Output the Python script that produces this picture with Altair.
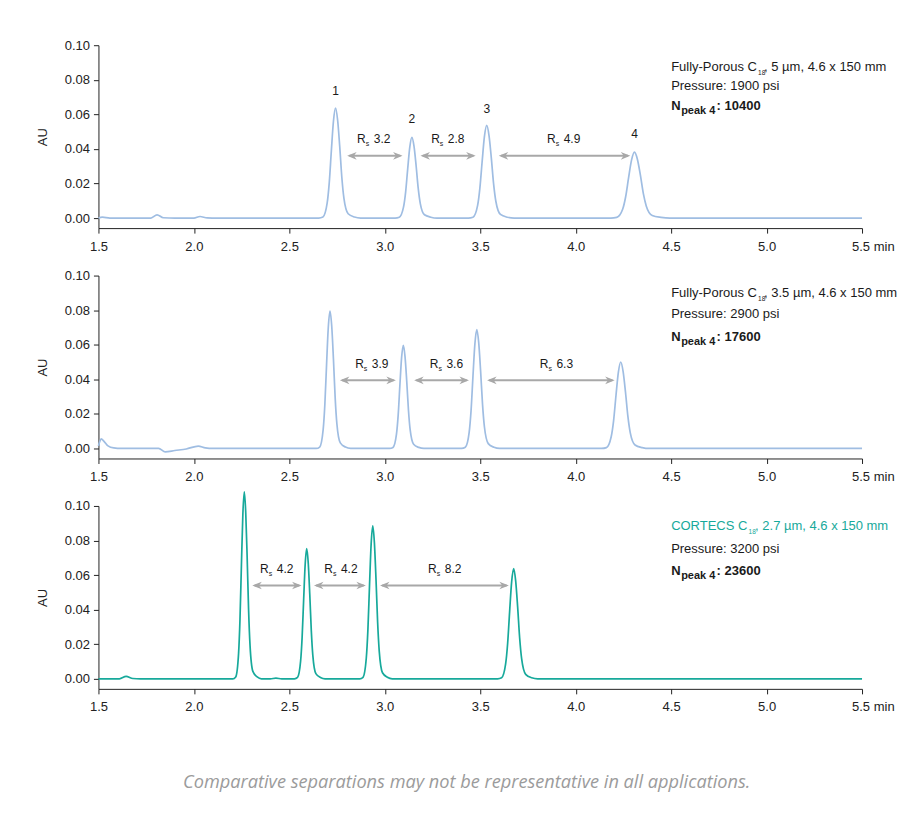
import altair as alt
import pandas as pd

# ---------------- axis ticks ----------------
X_TICKS = [1.5, 2.0, 2.5, 3.0, 3.5, 4.0, 4.5, 5.0, 5.5]
Y_TICKS = [0.0, 0.02, 0.04, 0.06, 0.08, 0.10]

# ---------------- chromatogram traces (time in min, absorbance in AU) ----------------
P1_T = [1.5, 1.52, 1.56, 1.775, 1.807, 1.84, 1.90, 2.00, 2.032, 2.07, 2.12,
        2.654, 2.676, 2.698, 2.709, 2.720, 2.731, 2.742, 2.753, 2.764, 2.775, 2.786, 2.808, 2.841, 2.874,
        3.054, 3.076, 3.098, 3.109, 3.120, 3.131, 3.142, 3.153, 3.164, 3.175, 3.186, 3.208, 3.241, 3.274,
        3.438, 3.462, 3.486, 3.498, 3.510, 3.522, 3.534, 3.546, 3.558, 3.570, 3.582, 3.606, 3.642, 3.678,
        4.184, 4.215, 4.246, 4.2615, 4.277, 4.2925, 4.308, 4.3235, 4.339, 4.3545, 4.370, 4.401, 4.4475, 4.494,
        5.5]
P1_AU = [0.0, 0.0005, 0.0, 0.0, 0.0019, 0.0002, 0.0, 0.0, 0.0009, 0.0001, 0.0,
         0.0, 0.0006, 0.0086, 0.0204, 0.0388, 0.0560, 0.0636, 0.0566, 0.0413, 0.0235, 0.0114, 0.0025, 0.0006, 0.0,
         0.0, 0.0005, 0.0063, 0.0149, 0.0285, 0.0411, 0.0467, 0.0416, 0.0304, 0.0173, 0.0084, 0.0019, 0.0005, 0.0,
         0.0, 0.0005, 0.0072, 0.0172, 0.0327, 0.0472, 0.0536, 0.0477, 0.0348, 0.0198, 0.0096, 0.0021, 0.0005, 0.0,
         0.0, 0.0004, 0.0051, 0.0122, 0.0232, 0.0335, 0.0381, 0.0339, 0.0248, 0.0141, 0.0069, 0.0015, 0.0004, 0.0,
         0.0]

P2_T = [1.5, 1.507, 1.514, 1.53, 1.55, 1.58, 1.62, 1.815, 1.85, 1.90, 1.96, 2.023, 2.06, 2.10,
        2.641, 2.659, 2.677, 2.686, 2.695, 2.704, 2.713, 2.722, 2.731, 2.740, 2.749, 2.767, 2.794, 2.821,
        3.025, 3.043, 3.061, 3.070, 3.079, 3.088, 3.097, 3.106, 3.115, 3.124, 3.133, 3.151, 3.178, 3.205,
        3.402, 3.422, 3.442, 3.452, 3.462, 3.472, 3.482, 3.492, 3.502, 3.512, 3.522, 3.542, 3.572, 3.602,
        4.136, 4.161, 4.186, 4.1985, 4.211, 4.2235, 4.236, 4.2485, 4.261, 4.2735, 4.286, 4.311, 4.3485, 4.386,
        5.5]
P2_AU = [0.0015, 0.004, 0.0055, 0.004, 0.0015, 0.0003, 0.0, 0.0, -0.002, -0.0012, -0.0003, 0.0014, 0.0003, 0.0,
         0.0, 0.0008, 0.0107, 0.0254, 0.0485, 0.0700, 0.0795, 0.0708, 0.0517, 0.0294, 0.0143, 0.0032, 0.0008, 0.0,
         0.0, 0.0006, 0.0081, 0.0191, 0.0364, 0.0525, 0.0597, 0.0531, 0.0388, 0.0221, 0.0107, 0.0024, 0.0006, 0.0,
         0.0, 0.0007, 0.0093, 0.0220, 0.0420, 0.0605, 0.0688, 0.0612, 0.0447, 0.0255, 0.0124, 0.0028, 0.0007, 0.0,
         0.0, 0.0005, 0.0068, 0.0160, 0.0305, 0.0440, 0.0500, 0.0445, 0.0325, 0.0185, 0.0090, 0.0020, 0.0005, 0.0,
         0.0]

P3_T = [1.5, 1.61, 1.645, 1.68, 1.72,
        2.204, 2.219, 2.234, 2.2415, 2.249, 2.2565, 2.264, 2.2715, 2.279, 2.2865, 2.294, 2.309, 2.3315, 2.354,
        2.40, 2.43, 2.46,
        2.527, 2.543, 2.559, 2.567, 2.575, 2.583, 2.591, 2.599, 2.607, 2.615, 2.623, 2.639, 2.663, 2.687,
        2.869, 2.886, 2.903, 2.9115, 2.920, 2.9285, 2.937, 2.9455, 2.954, 2.9625, 2.971, 2.988, 3.0135, 3.039,
        3.591, 3.612, 3.633, 3.6435, 3.654, 3.6645, 3.675, 3.6855, 3.696, 3.7065, 3.717, 3.738, 3.7695, 3.801,
        5.5]
P3_AU = [0.0, 0.0, 0.0014, 0.0002, 0.0,
         0.0, 0.0011, 0.0146, 0.0346, 0.0660, 0.0952, 0.1082, 0.0963, 0.0703, 0.0400, 0.0195, 0.0043, 0.0011, 0.0,
         0.0, 0.0004, 0.0,
         0.0, 0.0008, 0.0102, 0.0241, 0.0459, 0.0663, 0.0753, 0.0670, 0.0489, 0.0279, 0.0136, 0.0030, 0.0008, 0.0,
         0.0, 0.0009, 0.0119, 0.0283, 0.0540, 0.0779, 0.0885, 0.0788, 0.0575, 0.0327, 0.0159, 0.0035, 0.0009, 0.0,
         0.0, 0.0006, 0.0086, 0.0204, 0.0389, 0.0561, 0.0638, 0.0568, 0.0415, 0.0236, 0.0115, 0.0026, 0.0006, 0.0,
         0.0]

# ---------------- peak numbers (top panel only) ----------------
PEAK_NAMES = ["1", "2", "3", "4"]
PEAK_NAME_T = [2.742, 3.142, 3.534, 4.308]
PEAK_NAME_AU = [0.0713, 0.0550, 0.0608, 0.0464]

# ---------------- resolution arrows ----------------
RS_VALUES = [["3.2", "2.8", "4.9"], ["3.9", "3.6", "6.3"], ["4.2", "4.2", "8.2"]]
RS_LABEL_T = [[2.942, 3.330, 3.937], [2.932, 3.323, 3.899], [2.434, 2.770, 3.314]]
RS_LABEL_AU = [0.0435, 0.0467, 0.0613]
ARROW_START = [[2.803, 3.187, 3.597], [2.765, 3.154, 3.536], [2.306, 2.629, 2.975]]
ARROW_END = [[3.093, 3.476, 4.286], [3.058, 3.441, 4.204], [2.564, 2.901, 3.650]]
ARROW_AU = [0.0360, 0.0394, 0.0540]

# ---------------- column info text ----------------
COLUMN_NAME = ["Fully-Porous C", "Fully-Porous C", "CORTECS C"]
COLUMN_SPEC = [", 5 µm, 4.6 x 150 mm", ", 3.5 µm, 4.6 x 150 mm", ", 2.7 µm, 4.6 x 150 mm"]
PRESSURE = ["Pressure: 1900 psi", "Pressure: 2900 psi", "Pressure: 3200 psi"]
PLATES = ["10400", "17600", "23600"]
INFO_T = 4.5
INFO_AU = [[0.0851, 0.0740, 0.0624], [0.0877, 0.0755, 0.0623], [0.0861, 0.0727, 0.0601]]

FOOTNOTE = "Comparative separations may not be representative in all applications."

# ---------------- styling ----------------
LINE_COLORS = ["#9fbde2", "#9fbde2", "#17a99b"]
TITLE_COLORS = ["#1a1a1a", "#1a1a1a", "#17a99b"]
GRAY = "#a8a8a8"
INK = "#1a1a1a"
FONT = "Liberation Sans"
W, H = 764, 183
Y_MIN = -0.0058

LEFT_HEAD = "M 0 0 L 2 -0.8 L 1.4 0 L 2 0.8 Z"
RIGHT_HEAD = "M 0 0 L -2 -0.8 L -1.4 0 L -2 0.8 Z"

xscale = alt.Scale(domain=[1.5, 5.5], nice=False, zero=False)
yscale = alt.Scale(domain=[Y_MIN, 0.10], nice=False, zero=False)

AXIS_STYLE = dict(
    grid=False, domainColor="#222222", tickColor="#222222", tickSize=5,
    labelFont=FONT, labelFontSize=13, labelColor="#222222",
    titleFont=FONT, titleFontSize=13, titleFontWeight="normal", titleColor="#222222",
)

xaxis = alt.Axis(
    values=X_TICKS,
    labelExpr="format(datum.value, '.1f') + (datum.value == 5.5 ? ' min' : '')",
    labelFlush=False,
    labelAlign={"condition": {"test": "datum.value == 5.5", "value": "left"}, "value": "center"},
    labelOffset={"condition": {"test": "datum.value == 5.5", "value": -10.5}, "value": 0},
    labelPadding=7,
    title=None,
    **AXIS_STYLE,
)
yaxis = alt.Axis(values=Y_TICKS, format=".2f", title="AU", titlePadding=15, labelPadding=4, **AXIS_STYLE)


def X(field):
    return alt.X(field, type="quantitative", scale=xscale, axis=xaxis)


def Y(field):
    return alt.Y(field, type="quantitative", scale=yscale, axis=yaxis)


def txt(df, **kw):
    base = dict(font=FONT, fontSize=12, color=INK, align="left", baseline="alphabetic")
    base.update(kw)
    return alt.Chart(df).mark_text(**base).encode(x=X("t"), y=Y("au"), text="s:N")


def panel(i, T, AU):
    trace = pd.DataFrame({"t": T, "au": AU})
    layers = [
        alt.Chart(trace).mark_line(interpolate="monotone", color=LINE_COLORS[i], strokeWidth=1.7)
        .encode(x=X("t"), y=Y("au"))
    ]
    # arrows
    arr = pd.DataFrame({"t": ARROW_START[i], "t2": ARROW_END[i], "au": [ARROW_AU[i]] * 3})
    arr["r1"] = arr["t"] + 0.012
    arr["r2"] = arr["t2"] - 0.012
    layers.append(alt.Chart(arr).mark_rule(color=GRAY, strokeWidth=2)
                  .encode(x=X("r1"), x2="r2", y=Y("au")))
    layers.append(alt.Chart(arr).mark_point(shape=LEFT_HEAD, filled=True, color=GRAY, size=90, opacity=1)
                  .encode(x=X("t"), y=Y("au")))
    layers.append(alt.Chart(arr).mark_point(shape=RIGHT_HEAD, filled=True, color=GRAY, size=90, opacity=1)
                  .encode(x=X("t2"), y=Y("au")))
    # Rs labels
    rs = pd.DataFrame({"t": RS_LABEL_T[i], "au": [RS_LABEL_AU[i]] * 3})
    layers.append(txt(rs.assign(s="R"), align="right", dx=-8))
    layers.append(txt(rs.assign(s="s"), fontSize=7, dx=-8, dy=3))
    layers.append(txt(rs.assign(s=RS_VALUES[i])))
    # peak numbers
    if i == 0:
        pk = pd.DataFrame({"t": PEAK_NAME_T, "au": PEAK_NAME_AU, "s": PEAK_NAMES})
        layers.append(txt(pk, align="center"))
    # info block
    a1, a2, a3 = INFO_AU[i]
    sub_dx = 87 if i < 2 else 77.5
    spec_dx = 93 if i < 2 else 84
    layers.append(txt(pd.DataFrame({"t": [INFO_T], "au": [a1], "s": [COLUMN_NAME[i]]}),
                      color=TITLE_COLORS[i], fontSize=13))
    layers.append(txt(pd.DataFrame({"t": [INFO_T], "au": [a1], "s": ["18"]}), color=TITLE_COLORS[i],
                      fontSize=6.5, dx=sub_dx, dy=4))
    layers.append(txt(pd.DataFrame({"t": [INFO_T], "au": [a1], "s": [COLUMN_SPEC[i]]}), color=TITLE_COLORS[i],
                      fontSize=13, dx=spec_dx))
    layers.append(txt(pd.DataFrame({"t": [INFO_T], "au": [a2], "s": [PRESSURE[i]]}), fontSize=13))
    layers.append(txt(pd.DataFrame({"t": [INFO_T], "au": [a3], "s": ["N"]}), fontWeight="bold", fontSize=13))
    layers.append(txt(pd.DataFrame({"t": [INFO_T], "au": [a3], "s": ["peak 4"]}), fontWeight="bold",
                      fontSize=11, dx=10, dy=4))
    layers.append(txt(pd.DataFrame({"t": [INFO_T], "au": [a3], "s": [": " + PLATES[i]]}), fontWeight="bold",
                      fontSize=13, dx=45.5))
    return alt.layer(*layers).properties(width=W, height=H)


chart = alt.vconcat(
    panel(0, P1_T, P1_AU),
    panel(1, P2_T, P2_AU),
    panel(2, P3_T, P3_AU),
    spacing=47.5,
    bounds="flush",
).properties(
    padding={"left": 27.5, "top": 31, "right": 12, "bottom": 30},
    background="white",
    title=alt.TitleParams(
        text=FOOTNOTE, orient="bottom", anchor="middle", font="Open Sans", fontStyle="italic",
        fontWeight="normal", fontSize=18.2, color="#9b9b9b", offset=60,
    ),
).configure_view(stroke=None)

chart.save("out.html", embed_options={"renderer": "svg", "actions": False})
